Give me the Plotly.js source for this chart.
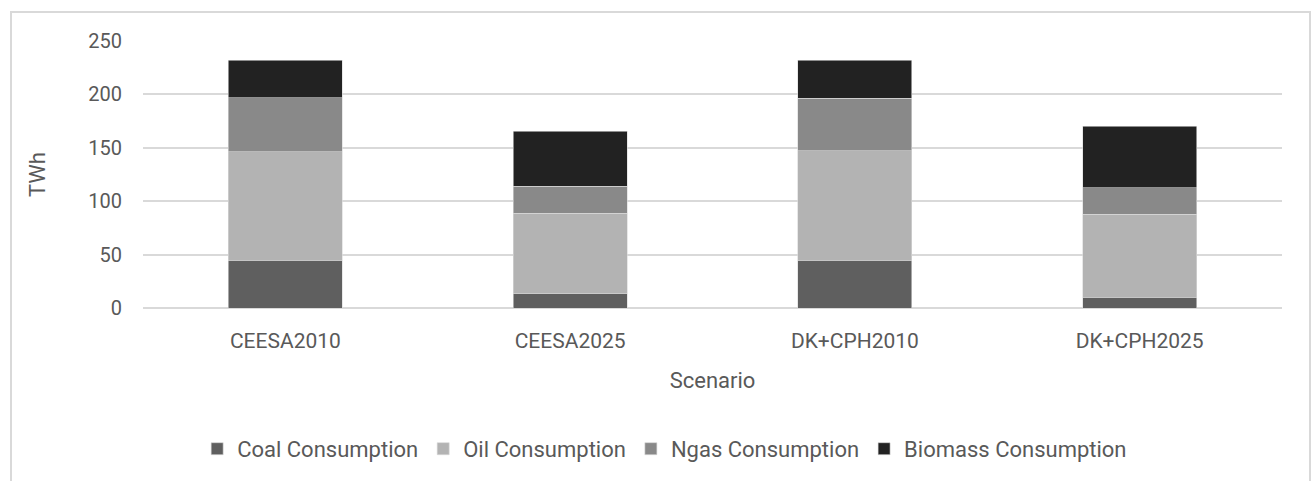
<!DOCTYPE html>
<html>
<head>
<meta charset="utf-8">
<script src="https://cdn.plot.ly/plotly-3.0.1.min.js"></script>
<style>
html,body{margin:0;padding:0;background:#fff;overflow:hidden;}
#chart{position:absolute;left:0;top:0;width:1311px;height:481px;}
#frame{position:absolute;left:10px;top:11px;width:1297px;height:480px;border:2px solid #d9d9d9;border-bottom:none;pointer-events:none;}
</style>
</head>
<body>
<div id="frame"></div>
<div id="chart"></div>
<script>
const categories = ["CEESA2010", "CEESA2025", "DK+CPH2010", "DK+CPH2025"];
const coal = [44.8, 13.4, 44.8, 10.0];
const oil = [101.4, 75.2, 102.6, 77.7];
const ngas = [50.5, 25.2, 49.1, 24.9];
const biomass = [35.5, 51.6, 35.5, 57.4];
const seriesNames = ["Coal Consumption", "Oil Consumption", "Ngas Consumption", "Biomass Consumption"];
const seriesColors = ["#5f5f5f", "#b3b3b3", "#898989", "#222222"];
const yTicks = [0, 50, 100, 150, 200, 250];

const font = "Roboto, Noto Sans, sans-serif";
const vals = [coal, oil, ngas, biomass];
const traces = vals.map((v, i) => ({
  type: "bar",
  name: seriesNames[i],
  x: categories,
  y: v,
  marker: {color: seriesColors[i], line: {color: "#d9d9d9", width: 0.6}},
  hoverinfo: "x+y+name"
}));

const layout = {
  width: 1311, height: 481,
  margin: {l: 143, r: 29, t: 41, b: 172},
  barmode: "stack",
  bargap: 0.6,
  paper_bgcolor: "rgba(0,0,0,0)",
  plot_bgcolor: "#fff",
  font: {family: font, color: "#595959", size: 21},
  xaxis: {
    showgrid: false, showline: false, zeroline: false, ticks: "",
    ticklabelstandoff: 18,
    tickfont: {family: font, size: 21, color: "#595959"},
    title: {text: "Scenario", font: {family: font, size: 22, color: "#595959"}, standoff: 20}
  },
  yaxis: {
    range: [0, 250], tickvals: yTicks, ticktext: yTicks.map(String),
    showgrid: true, gridcolor: "#d9d9d9", gridwidth: 2,
    zeroline: true, zerolinecolor: "#d9d9d9", zerolinewidth: 2,
    showline: false, ticks: "",
    ticklabelstandoff: 20,
    tickfont: {family: font, size: 20, color: "#595959"},
    title: {text: "TWh", font: {family: font, size: 22, color: "#595959"}, standoff: 36}
  },
  legend: {
    orientation: "h", x: 0.458, xanchor: "center", y: -0.522, yanchor: "middle",
    font: {family: font, size: 22, color: "#595959"},
    itemwidth: 30, traceorder: "normal"
  },
  showlegend: true
};

Plotly.newPlot("chart", traces, layout, {displayModeBar: false, staticPlot: true});
</script>
</body>
</html>
